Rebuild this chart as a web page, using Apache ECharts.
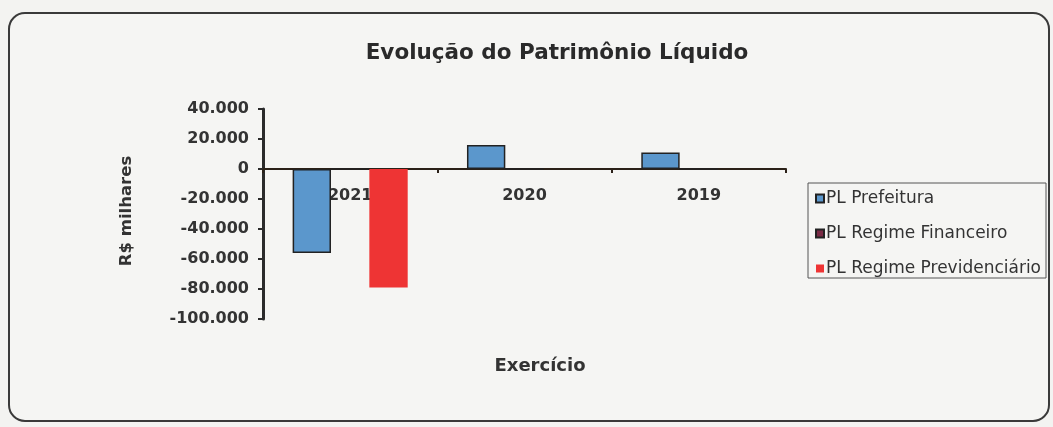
<!DOCTYPE html>
<html>
<head>
<meta charset="utf-8">
<script src="https://cdn.jsdelivr.net/npm/echarts@6/dist/echarts.min.js"></script>
<style>
  html, body { margin: 0; padding: 0; background: #f3f3f1; }
  #chart { width: 1053px; height: 427px; }
</style>
</head>
<body>
<div id="chart"></div>
<script>
var anos = ["2021", "2020", "2019"]
var plPrefeitura = [-56000, 16000, 11000]
var plFinanceiro = [0, 0, 0]
var plPrevidenciario = [-79000, 0, 0]
var yTicks = { min: -100000, max: 40000, step: 20000 }

function milhar(v) {
    var s = Math.abs(v).toString().replace(/\B(?=(\d{3})+(?!\d))/g, ".")
    return (v < 0 ? "-" : "") + s
}

var chart = echarts.init(document.getElementById("chart"))

// fonte larga parecida com a do grafico original
var font = "'DejaVu Sans', Verdana, sans-serif"

var option = {
    backgroundColor: "#f3f3f1",
    animation: false,
    graphic: [
        {
            type: "rect",
            shape: { x: 9, y: 13, width: 1040, height: 408, r: 16 },
            style: { fill: "#f5f5f3", stroke: "#3a3a3a", lineWidth: 2 },
            z: -10
        }
    ],
    title: {
        text: "Evolução do Patrimônio Líquido",
        left: 552,
        textAlign: "center",
        top: 37,
        textStyle: { fontFamily: font, fontSize: 21.5, fontWeight: "bold", color: "#2a2a2a" }
    },
    legend: {
        orient: "vertical",
        left: 808,
        top: 183,
        padding: [7, 5, 1, 7],
        itemGap: 18,
        itemWidth: 8,
        itemHeight: 8,
        icon: "rect",
        borderColor: "#555",
        borderWidth: 1,
        textStyle: { fontFamily: font, fontSize: 17, lineHeight: 17, color: "#333", padding: [0, 0, 0, -3] },
        data: ["PL Prefeitura", "PL Regime Financeiro", "PL Regime Previdenciário"]
    },
    grid: { left: 263, right: 267, top: 109, bottom: 108, containLabel: false, outerBoundsMode: "none" },
    xAxis: {
        type: "category",
        data: anos,
        name: "Exercício",
        nameLocation: "middle",
        nameGap: 38,
        nameTextStyle: { fontFamily: font, fontSize: 18, fontWeight: "bold", color: "#333", padding: [0, 0, 0, 31] },
        axisLine: { onZero: true, lineStyle: { color: "#2b2118", width: 2 } },
        axisTick: { show: true, length: 4, lineStyle: { color: "#2b2118", width: 2 } },
        axisLabel: { margin: -131, fontFamily: font, fontSize: 16, fontWeight: "bold", color: "#333" },
        splitLine: { show: false }
    },
    yAxis: {
        type: "value",
        min: yTicks.min,
        max: yTicks.max,
        interval: yTicks.step,
        name: "R$ milhares",
        nameLocation: "middle",
        nameRotate: 90,
        nameGap: 128,
        nameTextStyle: { fontFamily: font, fontSize: 16.5, fontWeight: "bold", color: "#333", padding: [0, 0, 0, 6] },
        axisLine: { show: true, lineStyle: { color: "#2b2b2b", width: 3 } },
        axisTick: { show: true, length: 5, lineStyle: { color: "#2b2b2b", width: 2 } },
        axisLabel: { margin: 14, formatter: milhar, fontFamily: font, fontSize: 16, fontWeight: "bold", color: "#333" },
        splitLine: { show: false }
    },
    series: [
        {
            name: "PL Prefeitura",
            type: "bar",
            data: plPrefeitura,
            barGap: "0%",
            barCategoryGap: "34%",
            itemStyle: { color: "#5b97cc", borderColor: "#222", borderWidth: 1.5 }
        },
        {
            name: "PL Regime Financeiro",
            type: "bar",
            data: plFinanceiro,
            itemStyle: { color: "#7a2a45", borderColor: "#222", borderWidth: 1 }
        },
        {
            name: "PL Regime Previdenciário",
            type: "bar",
            data: plPrevidenciario,
            itemStyle: { color: "#ee3434" }
        }
    ]
}

chart.setOption(option)
</script>
</body>
</html>
